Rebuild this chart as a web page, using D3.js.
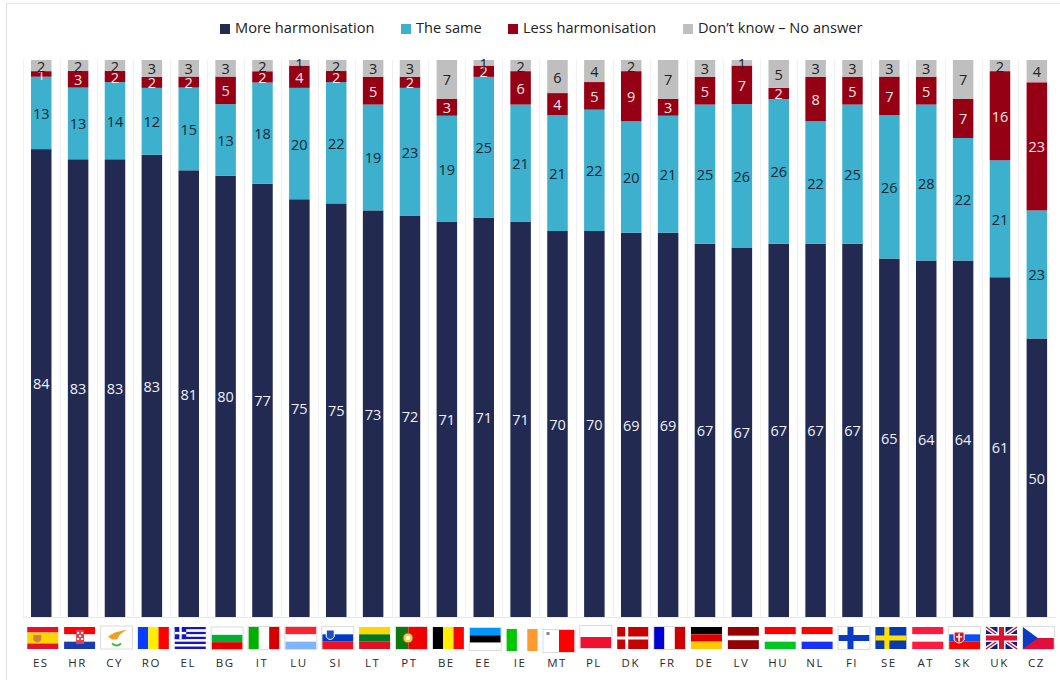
<!DOCTYPE html>
<html><head><meta charset="utf-8">
<script src="https://cdn.jsdelivr.net/npm/d3@7"></script>
<style>html,body{margin:0;padding:0;background:#fff}svg{display:block}text{font-family:"Open Sans",sans-serif}</style>
</head><body><svg id="c" width="1060" height="680"></svg>
<script>
const countries=["ES","HR","CY","RO","EL","BG","IT","LU","SI","LT","PT","BE","EE","IE","MT","PL","DK","FR","DE","LV","HU","NL","FI","SE","AT","SK","UK","CZ"];
const moreHarmonisation=[84,83,83,83,81,80,77,75,75,73,72,71,71,71,70,70,69,69,67,67,67,67,67,65,64,64,61,50];
const theSame=[13,13,14,12,15,13,18,20,22,19,23,19,25,21,21,22,20,21,25,26,26,22,25,26,28,22,21,23];
const lessHarmonisation=[1,3,2,2,2,5,2,4,2,5,2,3,2,6,4,5,9,3,5,7,2,8,5,7,5,7,16,23];
const dontKnow=[2,2,2,3,3,3,2,1,2,3,3,7,1,2,6,4,2,7,3,1,5,3,3,3,3,7,2,4];
const seriesNames=["More harmonisation","The same","Less harmonisation","Don’t know – No answer"];
const seriesColors=["#222a52","#3cb0cc","#960014","#bfbfbf"];
const labelColors=["#f0f0f4","#14293a","#f6e6e6","#222222"];
const legendX=[220,401,508,683];
const flagStripes={ES:["h","#e8112d:1","#ffd400:2","#e8112d:1"],HR:["h","#f00:1","#fff:1","#1a3ab0:1"],CY:["h","#fff:1"],RO:["v","#0a3cff:1","#ffee00:1","#f00:1"],EL:["h","#1414c8:1","#fff:1","#1414c8:1","#fff:1","#1414c8:1","#fff:1","#1414c8:1","#fff:1","#1414c8:1"],BG:["h","#fff:1","#00b030:1","#e00000:1"],IT:["v","#00b000:1","#fff:1","#d40000:1"],LU:["h","#ff2030:1","#fff:1","#80b4ff:1"],SI:["h","#fff:1","#0038c8:1","#f01020:1"],LT:["h","#ffd800:1","#007820:1","#e01020:1"],PT:["v","#0a7a10:2","#f00000:3"],BE:["v","#000:1","#ffee00:1","#f00:1"],EE:["h","#0095ff:1","#000:1","#fff:1"],IE:["v","#00c800:1","#fff:1","#ff9a30:1"],MT:["v","#fff:1","#f00:1"],PL:["h","#fff:1","#f01030:1"],DK:["h","#c80000:1"],FR:["v","#0000d0:1","#fff:1","#cc0000:1"],DE:["h","#000:1","#e00000:1","#ffc800:1"],LV:["h","#960000:2","#fff:1","#960000:2"],HU:["h","#f00:1","#fff:1","#00c820:1"],NL:["h","#f00:1","#fff:1","#1a30ff:1"],FI:["h","#fff:1"],SE:["h","#0a3ab0:1"],AT:["h","#ff1a40:1","#fff:1","#ff1a40:1"],SK:["h","#fff:1","#0a50f0:1","#f00:1"],UK:["h","#102080:1"],CZ:["h","#fff:1","#e0103a:1"]};

const svg=d3.select("#c");
const M={top:60,bottom:617,left:22.8,right:1055.3};
const x=d3.scaleBand().domain(countries).range([M.left,M.right]).paddingInner(.444).paddingOuter(.222);
const y=d3.scaleLinear().domain([0,1]).range([M.bottom,M.top]);
const rows=countries.map((c,i)=>({c,s0:moreHarmonisation[i],s1:theSame[i],s2:lessHarmonisation[i],s3:dontKnow[i]}));
const stack=d3.stack().keys(["s0","s1","s2","s3"]).offset(d3.stackOffsetExpand)(rows);

svg.append("rect").attr("x",6).attr("y",3).attr("width",1060).attr("height",1).attr("fill","#e6e6e6");
svg.append("rect").attr("x",6).attr("y",3).attr("width",1).attr("height",677).attr("fill","#e0e0e0");

const step=x.step();
svg.append("g").selectAll("rect").data(countries).join("rect")
 .attr("x",d=>Math.round(x(d)+x.bandwidth()/2-step/2)).attr("y",M.top).attr("width",1).attr("height",M.bottom-M.top).attr("fill","#f0f0f0");
svg.append("rect").attr("x",Math.round(M.left)).attr("y",M.bottom).attr("width",M.right-M.left).attr("height",1).attr("fill","#e8e8e8");

const g=svg.append("g").selectAll("g").data(stack).join("g").attr("fill",(d,i)=>seriesColors[i]);
g.selectAll("rect").data(d=>d).join("rect")
 .attr("x",d=>x(d.data.c)).attr("width",x.bandwidth())
 .attr("y",d=>y(d[1])).attr("height",d=>y(d[0])-y(d[1]));
stack.forEach((s,i)=>{
 svg.append("g").selectAll("text").data(s).join("text")
  .attr("x",d=>x(d.data.c)+x.bandwidth()/2).attr("y",d=>(y(d[0])+y(d[1]))/2+6)
  .attr("text-anchor","middle").attr("font-size",14.5).attr("fill",labelColors[i])
  .text(d=>d.data[s.key]);
});
const lg=svg.append("g").selectAll("g").data(seriesNames).join("g").attr("transform",(d,i)=>`translate(${legendX[i]},0)`);
lg.append("rect").attr("y",24).attr("width",10).attr("height",10).attr("fill",(d,i)=>seriesColors[i]);
lg.append("text").attr("x",15).attr("y",33).attr("font-size",14.6).attr("fill","#222").text(d=>d);

const FW=31,FH=22,FY=627;
const nudge={EE:1,IE:2,MT:3,PL:-1,CY:-.5,BG:.5};
const fl=svg.append("g").selectAll("g").data(countries).join("g")
 .attr("transform",d=>`translate(${x(d)+x.bandwidth()/2+1.5-FW/2},${FY+(nudge[d]||0)})`);
fl.each(function(c){
 const f=d3.select(this),spec=flagStripes[c],dir=spec[0],parts=spec.slice(1).map(s=>s.split(":"));
 const tot=d3.sum(parts,p=>+p[1]);let pos=0;
 parts.forEach(p=>{const sz=(dir=="h"?FH:FW)*p[1]/tot;
  f.append("rect").attr("x",dir=="h"?0:pos).attr("y",dir=="h"?pos:0).attr("width",dir=="h"?FW:sz).attr("height",dir=="h"?sz:FH).attr("fill",p[0]);pos+=sz;});
 const r=(a,b,w,h,col)=>f.append("rect").attr("x",a).attr("y",b).attr("width",w).attr("height",h).attr("fill",col);
 const cross=(col,vx,w)=>{r(0,FH/2-w/2,FW,w,col);r(vx,0,w,FH,col);};
 if(c=="ES")f.append("path").attr("d","M6 8h8v5q-4 5-8 0Z").attr("fill","#d08040");
 if(c=="HR"){r(12,3,8,14,"#e04050");[[13,5],[17,5],[15,8],[13,11],[17,11]].forEach(p=>r(p[0],p[1],2,2,"#fff"));}
 if(c=="CY"){f.append("path").attr("d","M7 10 L14 6 L26 3 L19 8 L16 13 L11 13 Z").attr("fill","#f0a020");
  f.append("path").attr("d","M11 17 Q16 21 20 17").attr("fill","none").attr("stroke","#40c040").attr("stroke-width",2);}
 if(c=="EL"){r(0,0,11.5,12.2,"#1414c8");r(0,4.9,11.5,2.4,"#fff");r(4.6,0,2.4,12.2,"#fff");}
 if(c=="SI")f.append("path").attr("d","M4 3h8v7q-4 5-8 0Z").attr("fill","#2050c0").attr("stroke","#fff");
 if(c=="SK"){f.append("path").attr("d","M5 5h10v8q-5 6-10 0Z").attr("fill","#e01020").attr("stroke","#fff");r(9.2,6.5,1.6,8,"#fff");r(7,9,6,1.5,"#fff");}
 if(c=="PT"){f.append("circle").attr("cx",12).attr("cy",11).attr("r",5).attr("fill","#f0d040").attr("stroke","#b05020");f.append("circle").attr("cx",12).attr("cy",11).attr("r",2.2).attr("fill","#fff");}
 if(c=="MT")r(3,2,3,3,"#888");
 if(c=="DK")cross("#fff",8,3);
 if(c=="FI")cross("#0a3ac8",9,6);
 if(c=="SE")cross("#ffe000",9,5);
 if(c=="UK"){f.append("path").attr("d",`M0 0L${FW} ${FH}M${FW} 0L0 ${FH}`).attr("stroke","#fff").attr("stroke-width",4);
  f.append("path").attr("d",`M0 0L${FW} ${FH}M${FW} 0L0 ${FH}`).attr("stroke","#e01030").attr("stroke-width",1.5);
  cross("#fff",FW/2-4,8);cross("#e01030",FW/2-2.5,5);}
 if(c=="CZ")f.append("path").attr("d",`M0 0L15 ${FH/2}L0 ${FH}Z`).attr("fill","#0a3ac8");
 if(["CY","FI","SK","SI","CZ","PL","MT","BG","IT","PT","EE","LU","FR"].includes(c))
  f.append("rect").attr("x",-.5).attr("y",-.5).attr("width",FW+1).attr("height",FH+1).attr("fill","none").attr("stroke","#dcdcdc");
});
svg.append("g").selectAll("text").data(countries).join("text")
 .attr("x",d=>x(d)+x.bandwidth()/2-.5).attr("y",667).attr("text-anchor","middle")
 .attr("font-size",11.5).attr("letter-spacing",1.5).attr("fill","#2a2a2a").text(d=>d);
</script></body></html>
